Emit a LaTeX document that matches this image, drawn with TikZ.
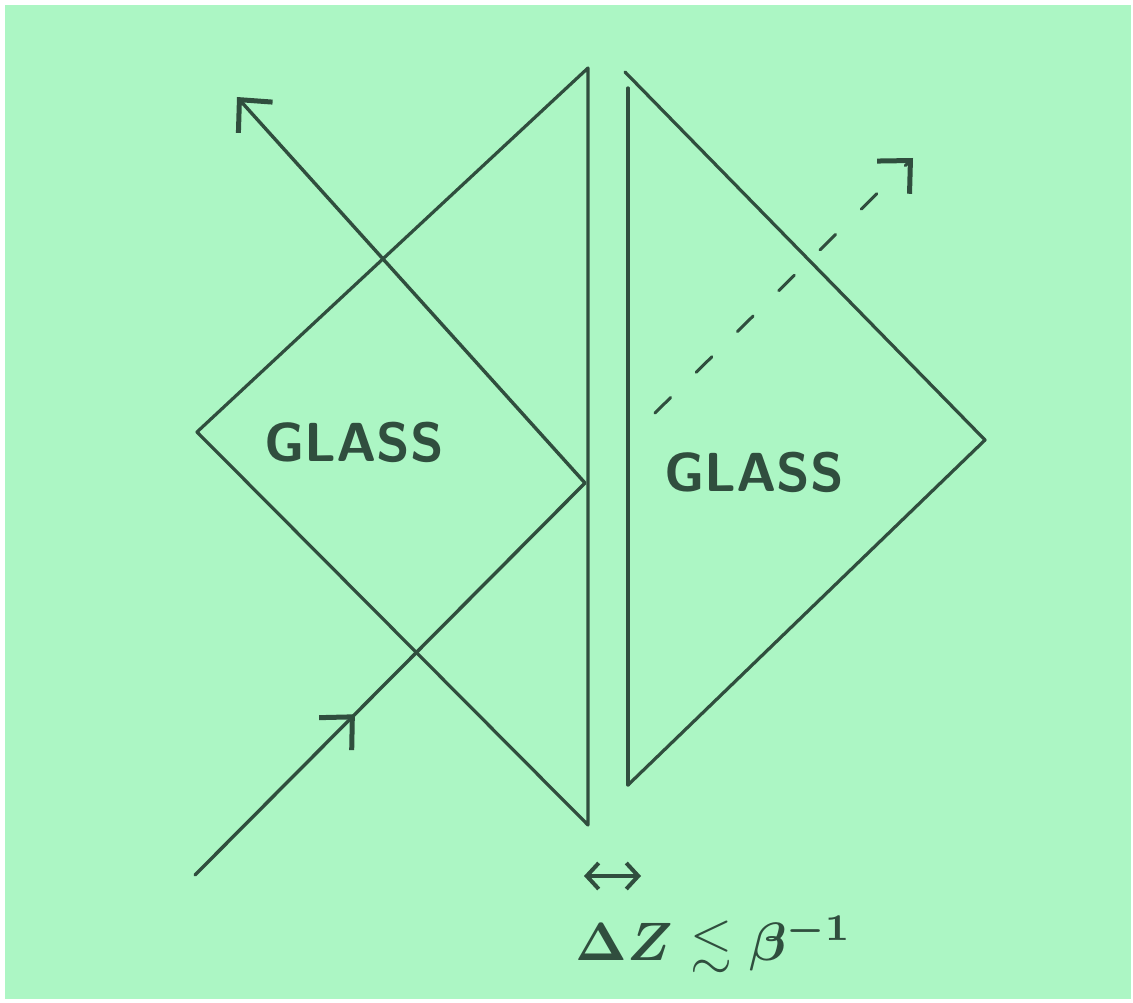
\documentclass[tikz,border=0pt]{standalone}
\usepackage{amsmath}
\usepackage{amssymb}
\usepackage{graphicx}
\usepackage{xcolor}
\usepackage{tikz}
\usetikzlibrary{arrows.meta,decorations.markings,calc}

\definecolor{paper}{RGB}{172,246,196}
\definecolor{ink}{RGB}{48,78,62}

\begin{document}
\begin{tikzpicture}[
  x=1pt,
  y=-1pt,
  line cap=round,
  line join=round,
  prism/.style={draw=ink, line width=3.2pt},
  ray/.style={draw=ink, line width=3.4pt},
  barb/.style={-{Straight Barb[length=24pt,width=46pt,line width=5pt]}},
  midbarb/.style={postaction={decorate},
    decoration={markings,mark=at position 0.41 with {\arrow[ink,line width=5pt]{Straight Barb[length=24pt,width=46pt]}}}},
  label/.style={text=ink, font=\sffamily\bfseries\fontsize{55}{60}\selectfont}
]
  % paper
  \useasboundingbox (0,0) rectangle (1133,1003);
  \fill[white] (0,0) rectangle (1133,1003);
  \fill[paper] (5,5) rectangle (1131,999);

  % left prism
  \coordinate (ltop) at (588,68);
  \coordinate (lbot) at (588,825);
  \coordinate (lleft) at (197,432);
  \draw[prism] (ltop) -- (lbot) -- (lleft) -- cycle;

  % right prism
  \coordinate (rtop) at (625,72);
  \coordinate (rface) at (628,88);
  \coordinate (rbot) at (628,785);
  \coordinate (rright) at (985,440);
  \draw[prism] (rface) -- (rbot);
  \draw[prism] (rtop) -- (rright) -- (rbot);

  % rays
  \coordinate (src) at (195,875);
  \coordinate (hit) at (585,483);
  \coordinate (out) at (237,97);
  \draw[ray, midbarb] (src) -- (hit);
  \draw[ray, barb] (hit) -- (out);

  % tunnelled ray
  \coordinate (tstart) at (655,413);
  \coordinate (tend) at (913,158);
  \draw[ray, line width=3pt, dash pattern=on 22pt off 36pt] (tstart) -- ($(tstart)!0.90!(tend)$);
  \draw[ray, barb, line width=3pt] ($(tstart)!0.97!(tend)$) -- (tend);

  \node[label] (glassl) at (354,442) {GLASS};
  \node[label] (glassr) at (754,472) {GLASS};

  % gap
  \coordinate (gapl) at (584,876);
  \coordinate (gapr) at (641,876);
  \draw[ray, {Straight Barb[length=12pt,width=26pt,line width=4pt]}-{Straight Barb[length=12pt,width=26pt,line width=4pt]}] (gapl) -- (gapr);
  \node[text=ink, anchor=west] (gap) at (572,944) {\scalebox{5.4}{\boldmath$\Delta Z \lesssim \beta^{-1}$}};
\end{tikzpicture}
\end{document}
